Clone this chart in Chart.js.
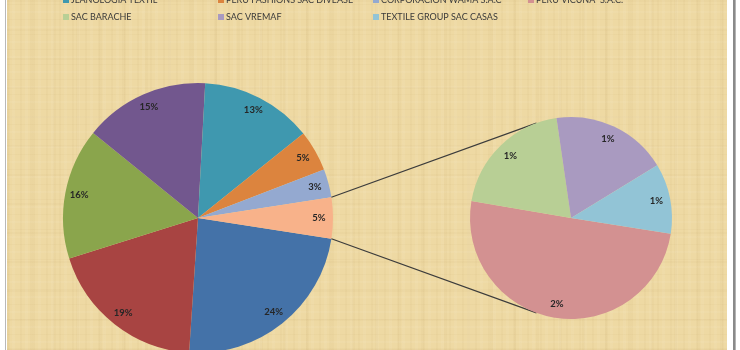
<!DOCTYPE html>
<html>
<head>
<meta charset="utf-8">
<script src="https://cdn.jsdelivr.net/npm/chart.js@4/dist/chart.umd.min.js"></script>
<style>
  html, body { margin: 0; padding: 0; background: #fff; }
  #wrap { position: relative; width: 740px; height: 350px; overflow: hidden; background: #fff; }
  #edgeL { position: absolute; left: 5px; top: 0; width: 1px; height: 350px; background: #b9b9b9; }
  #paper {
    position: absolute; left: 7px; top: 0; width: 720px; height: 350px;
    background:
      repeating-linear-gradient(90deg, rgba(150,110,40,.035) 0 2px, rgba(0,0,0,0) 2px 5px, rgba(255,255,255,.05) 5px 8px, rgba(0,0,0,0) 8px 13px),
      repeating-linear-gradient(90deg, rgba(140,100,30,.03) 0 3px, rgba(0,0,0,0) 3px 23px),
      repeating-linear-gradient(0deg, rgba(150,110,40,.035) 0 1px, rgba(0,0,0,0) 1px 7px, rgba(255,255,255,.05) 7px 9px, rgba(0,0,0,0) 9px 15px),
      repeating-linear-gradient(0deg, rgba(140,100,30,.03) 0 2px, rgba(0,0,0,0) 2px 29px),
      #eed9a3;
  }
  #edgeR { position: absolute; left: 733px; top: 0; width: 2px; height: 350px; background: #8a8a8a; }
  #edgeR2 { position: absolute; left: 735px; top: 0; width: 1px; height: 350px; background: #b4b4b4; }
  canvas { position: absolute; left: 0; top: 0; }
</style>
</head>
<body>
<div id="wrap">
  <div id="edgeL"></div>
  <div id="paper"></div>
  <div id="edgeR"></div>
  <div id="edgeR2"></div>
  <canvas id="mainPie" width="740" height="360"></canvas>
  <canvas id="subPie" width="740" height="360"></canvas>
</div>
<script>
// data: main pie (big companies) and the small ones split out to the second pie
const mainLabels = ['', '', '', '', 'JLANOLOGIA TEXTIL', 'PERU FASHIONS SAC DIVEASE', 'CORPORACION WAMA S.A.C'];
const mainValues = [23.6, 19.1, 15.7, 15.0, 13.4, 4.9, 3.4];
const mainColors = ['#4472a8', '#a84442', '#8aa54c', '#72578e', '#3f98af', '#dc843e', '#94a9d0'];
const otherColor = '#f8b28a';

const subLabels = ['PERU VICUÑA  S.A.C.', 'SAC BARACHE', 'SAC VREMAF', 'TEXTILE GROUP SAC CASAS'];
const subValues = [2.46, 0.98, 0.91, 0.55];
const subColors = ['#d39191', '#b8cf95', '#a99ac0', '#92c4d6'];

const otherValue = subValues.reduce((a, b) => a + b, 0);
const total = mainValues.reduce((a, b) => a + b, 0) + otherValue;

// percent labels near the outer edge of each slice
const sliceLabels = {
  id: 'sliceLabels',
  afterDatasetsDraw(chart) {
    const { ctx } = chart;
    const meta = chart.getDatasetMeta(0);
    const vals = chart.data.datasets[0].data;
    ctx.save();
    ctx.font = 'bold 9.5px Lato, "Liberation Sans", sans-serif';
    ctx.fillStyle = '#262626';
    ctx.textAlign = 'center';
    ctx.textBaseline = 'middle';
    meta.data.forEach((arc, i) => {
      const mid = (arc.startAngle + arc.endAngle) / 2;
      const r = arc.outerRadius - 14;
      ctx.fillText(Math.round(vals[i] / total * 100) + '%',
        arc.x + Math.cos(mid) * r, arc.y + Math.sin(mid) * r);
    });
    ctx.restore();
  }
};

// legend rows and the two lines joining the "other" slice to the second pie
const extras = {
  id: 'extras',
  afterDraw(chart) {
    const { ctx } = chart;
    const legendLabels = mainLabels.concat(subLabels);
    const legendColors = mainColors.concat(subColors);
    ctx.save();
    ctx.font = '9px Lato, "Liberation Sans", sans-serif';
    ctx.textBaseline = 'alphabetic';
    legendLabels.forEach((txt, i) => {
      const col = i % 4, row = Math.floor(i / 4);
      const x = 63 + col * 155, y = -14 + row * 17;
      ctx.fillStyle = legendColors[i];
      ctx.fillRect(x, y - 6, 6, 6);
      ctx.fillStyle = '#3a3a3a';
      ctx.fillText(txt, x + 8, y);
    });

    const arc = chart.getDatasetMeta(0).data[mainValues.length];
    const sub = subChart.getDatasetMeta(0).data[0];
    const a1 = -110 * Math.PI / 180, a2 = 110 * Math.PI / 180;
    ctx.strokeStyle = '#3c3c3c';
    ctx.lineWidth = 1.2;
    ctx.beginPath();
    ctx.moveTo(arc.x + Math.cos(arc.startAngle) * arc.outerRadius, arc.y + Math.sin(arc.startAngle) * arc.outerRadius);
    ctx.lineTo(sub.x + Math.cos(a1) * sub.outerRadius, sub.y + Math.sin(a1) * sub.outerRadius);
    ctx.moveTo(arc.x + Math.cos(arc.endAngle) * arc.outerRadius, arc.y + Math.sin(arc.endAngle) * arc.outerRadius);
    ctx.lineTo(sub.x + Math.cos(a2) * sub.outerRadius, sub.y + Math.sin(a2) * sub.outerRadius);
    ctx.stroke();
    ctx.restore();
  }
};

const commonOpts = {
  responsive: false,
  animation: false,
  events: [],
  plugins: { legend: { display: false }, tooltip: { enabled: false } }
};

const subChart = new Chart(document.getElementById('subPie'), {
  type: 'pie',
  data: {
    labels: subLabels,
    datasets: [{ data: subValues, backgroundColor: subColors, borderWidth: 0 }]
  },
  options: Object.assign({}, commonOpts, {
    rotation: 99,
    layout: { padding: { left: 470, right: 68, top: 117, bottom: 41 } }
  }),
  plugins: [sliceLabels]
});

const mainChart = new Chart(document.getElementById('mainPie'), {
  type: 'pie',
  data: {
    labels: mainLabels.concat(['Other']),
    datasets: [{
      data: mainValues.concat([otherValue]),
      backgroundColor: mainColors.concat([otherColor]),
      borderWidth: 0
    }]
  },
  options: Object.assign({}, commonOpts, {
    // put the "other" slice centred at 3 o'clock
    rotation: 90 + otherValue / total * 180,
    layout: { padding: { left: 63, right: 407, top: 83, bottom: 7 } }
  }),
  plugins: [sliceLabels, extras]
});
</script>
</body>
</html>
